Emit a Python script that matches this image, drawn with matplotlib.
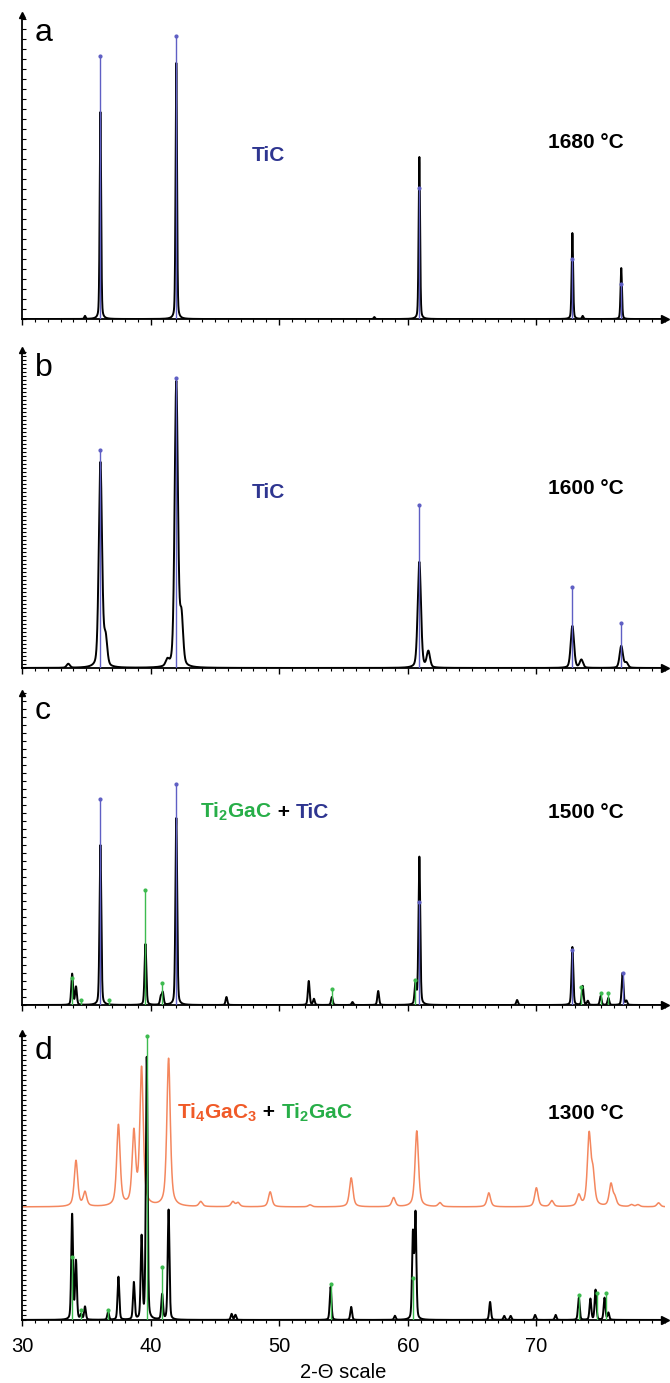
import numpy as np
import matplotlib
matplotlib.use('Agg')
import matplotlib.pyplot as plt
import matplotlib.transforms as mtransforms
from matplotlib.ticker import MultipleLocator, NullFormatter, FixedLocator

plt.rcParams['font.family'] = ['Liberation Sans', 'DejaVu Sans']
plt.rcParams['mathtext.fontset'] = 'custom'
plt.rcParams['mathtext.rm'] = 'Liberation Sans'
plt.rcParams['mathtext.bf'] = 'Liberation Sans:bold'

# ---- data (2-theta in degrees, intensities in arbitrary units) ----
# panel a, 1680 C
a_tic_pos = [36.1, 42.0, 60.9, 72.8, 76.6]
a_tic_int = [263, 283, 131, 60, 35]
a_obs_pos = [34.9, 36.1, 42.0, 57.4, 60.9, 72.8, 73.6, 76.6]
a_obs_int = [3, 207, 256, 2, 162, 86, 3, 51]

# panel b, 1600 C
b_tic_pos = [36.1, 42.0, 60.9, 72.8, 76.6]
b_tic_int = [218, 290, 163, 81, 45]
b_obs_pos = [33.6, 36.1, 36.5, 41.3, 42.0, 42.4, 60.9, 61.6, 72.8, 73.5, 76.6, 77.0]
b_obs_int = [4, 205, 28, 6, 285, 48, 106, 16, 42, 8, 22, 5]

# panel c, 1500 C
c_tic_pos = [36.1, 42.0, 60.9, 72.8, 76.7]
c_tic_int = [206, 221, 103, 55, 32]
c_212_pos = [33.9, 34.6, 36.8, 39.6, 40.9, 54.1, 60.6, 73.5, 75.0, 75.6]
c_212_int = [27, 5, 5, 115, 22, 16, 25, 18, 12, 12]
c_obs_pos = [33.9, 34.2, 36.1, 39.6, 40.8, 40.95, 42.0, 45.9, 52.3, 52.7, 54.1, 55.7,
             57.7, 60.6, 60.9, 68.5, 72.8, 73.6, 74.0, 75.0, 75.6, 76.7, 77.0]
c_obs_int = [31, 18, 160, 61, 8, 12, 187, 8, 24, 6, 8, 3,
             14, 22, 148, 5, 58, 19, 4, 9, 7, 32, 4]

# panel d, 1300 C
d_413_pos = [34.2, 34.9, 37.5, 38.7, 39.3, 41.4, 43.9, 46.4, 46.8, 49.3, 52.4, 55.6,
             58.9, 60.7, 62.5, 66.3, 70.0, 71.2, 73.3, 74.1, 74.4, 75.8, 76.1, 77.4, 77.9, 79.5]
d_413_int = [46, 14, 81, 72, 137, 148, 5, 5, 4, 15, 2, 29,
             9, 76, 4, 14, 19, 6, 11, 70, 30, 22, 8, 2, 2, 4]
d_212_pos = [33.9, 34.6, 36.7, 39.7, 40.9, 54.0, 60.4, 73.3, 74.7, 75.4]
d_212_int = [63, 10, 10, 284, 53, 36, 42, 25, 27, 27]
d_obs_pos = [33.9, 34.2, 34.6, 34.9, 36.7, 37.5, 38.7, 39.3, 39.7, 40.9, 41.4, 46.3, 46.6,
             54.0, 55.6, 59.0, 60.4, 60.6, 66.4, 67.5, 68.0, 69.9, 71.5, 73.3, 74.2, 74.6,
             75.3, 75.6]
d_obs_int = [105, 58, 5, 13, 8, 43, 37, 82, 262, 25, 110, 6, 5,
             33, 13, 4, 85, 105, 18, 4, 4, 5, 5, 22, 21, 30,
             22, 7]
d_offset = 113

x_labels = [30, 40, 50, 60, 70]
ylims = [304, 318, 312, 287]
ytick_step = [10, 4, 8, 5]

BLUE = '#5f5fc4'
GREEN = '#3dbb4f'
ORANGE = '#f4875e'
TIC_C = '#2e3590'
GAC_C = '#27ae48'
ORG_C = '#f05a28'

x = np.linspace(30, 80, 10001)


def profile(pos, inten, fwhm, eta=0.3):
    y = np.zeros_like(x)
    for p, h in zip(pos, inten):
        g = np.exp(-4 * np.log(2) * ((x - p) / fwhm) ** 2)
        l = 1 / (1 + 4 * ((x - p) / fwhm) ** 2)
        y += h * (eta * l + (1 - eta) * g)
    return y


def sticks(ax, pos, inten, color):
    ax.vlines(pos, 0, inten, color=color, lw=1.0, zorder=4)
    ax.plot(pos, inten, 'o', color=color, ms=2, zorder=4)


def colour_text(ax, xf, yf, pieces, size=15):
    fig = ax.figure
    r = fig.canvas.get_renderer()
    tr = ax.transAxes
    for s, c in pieces:
        t = ax.text(xf, yf, s, color=c, transform=tr, fontsize=size,
                    fontweight='bold', va='baseline', ha='left')
        ext = t.get_window_extent(renderer=r)
        tr = mtransforms.offset_copy(t.get_transform(), x=ext.width, units='dots')


fig = plt.figure(figsize=(6.7, 13.83), dpi=100)
boxes = [(0.7693, 0.9892), (0.5170, 0.7469), (0.2733, 0.4989), (0.0456, 0.2531)]
axes = []
for i, (b0, t0) in enumerate(boxes):
    ax = fig.add_axes([0.0328, b0, 0.9597, t0 - b0])
    ax.set_xlim(30, 80)
    ax.set_ylim(0, ylims[i])
    for s in ['top', 'right']:
        ax.spines[s].set_visible(False)
    ax.spines['left'].set_linewidth(1.3)
    ax.spines['bottom'].set_linewidth(1.3)
    ax.yaxis.set_major_locator(MultipleLocator(ytick_step[i]))
    ax.yaxis.set_major_formatter(NullFormatter())
    ax.tick_params(axis='y', direction='in', length=3, width=0.8)
    ax.xaxis.set_major_locator(FixedLocator(x_labels))
    ax.xaxis.set_minor_locator(MultipleLocator(1))
    ax.tick_params(axis='x', which='major', direction='out', length=4, width=1, pad=8,
                   labelsize=14.5)
    ax.tick_params(axis='x', which='minor', direction='out', length=2.5, width=0.8)
    if i < 3:
        ax.xaxis.set_major_formatter(NullFormatter())
    ax.plot(1, 0, '>k', ms=6, transform=ax.transAxes, clip_on=False)
    ax.plot(0, 1, '^k', ms=5, transform=ax.transAxes, clip_on=False)
    ax.text(0.02, 0.99, 'abcd'[i], transform=ax.transAxes, fontsize=23,
            va='top', ha='left')
    axes.append(ax)

ax_a, ax_b, ax_c, ax_d = axes

# a
ax_a.plot(x, profile(a_obs_pos, a_obs_int, 0.13), color='k', lw=1.4, zorder=3)
sticks(ax_a, a_tic_pos, a_tic_int, BLUE)
colour_text(ax_a, 0.358, 0.52, [('TiC', TIC_C)])
colour_text(ax_a, 0.818, 0.5625, [('1680 °C', 'k')])

# b
ax_b.plot(x, profile(b_obs_pos, b_obs_int, 0.3), color='k', lw=1.4, zorder=3)
sticks(ax_b, b_tic_pos, b_tic_int, BLUE)
colour_text(ax_b, 0.358, 0.535, [('TiC', TIC_C)])
colour_text(ax_b, 0.818, 0.547, [('1600 °C', 'k')])

# c
ax_c.plot(x, profile(c_obs_pos, c_obs_int, 0.16), color='k', lw=1.4, zorder=3)
sticks(ax_c, c_212_pos, c_212_int, GREEN)
sticks(ax_c, c_tic_pos, c_tic_int, BLUE)
colour_text(ax_c, 0.277, 0.60, [(r'Ti$_\mathbf{2}$GaC', GAC_C), (' + ', 'k'), ('TiC', TIC_C)])
colour_text(ax_c, 0.818, 0.60, [('1500 °C', 'k')])

# d
ax_d.plot(x, d_offset + profile(d_413_pos, d_413_int, 0.32, eta=0.6), color=ORANGE, lw=1.1, zorder=2)
ax_d.plot(x, profile(d_obs_pos, d_obs_int, 0.16), color='k', lw=1.4, zorder=3)
sticks(ax_d, d_212_pos, d_212_int, GREEN)
colour_text(ax_d, 0.241, 0.704, [(r'Ti$_\mathbf{4}$GaC$_\mathbf{3}$', ORG_C), (' + ', 'k'),
                                 (r'Ti$_\mathbf{2}$GaC', GAC_C)])
colour_text(ax_d, 0.818, 0.70, [('1300 °C', 'k')])
ax_d.set_xlabel('2-Θ scale', fontsize=14.5, labelpad=5)

fig.savefig('out.png', dpi=100)
